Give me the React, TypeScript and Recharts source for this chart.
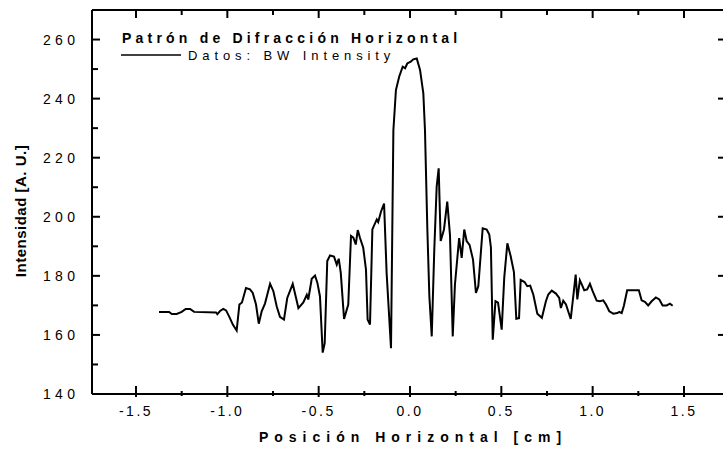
import React from 'react';
import { LineChart, Line, XAxis, YAxis, Legend, ReferenceLine } from 'recharts';

// Horizontal position (cm)
const positionsCm = [
  -1.374, -1.319, -1.304, -1.277, -1.250, -1.228, -1.204, -1.182, -1.062, -1.055,
  -1.040, -1.022, -1.007, -0.989, -0.970, -0.949, -0.934, -0.920, -0.898, -0.876,
  -0.861, -0.843, -0.828, -0.812, -0.794, -0.766, -0.748, -0.730, -0.712, -0.690,
  -0.672, -0.642, -0.628, -0.611, -0.584, -0.565, -0.557, -0.538, -0.520, -0.507,
  -0.493, -0.478, -0.467, -0.453, -0.438, -0.416, -0.401, -0.390, -0.379, -0.361,
  -0.338, -0.323, -0.310, -0.297, -0.286, -0.274, -0.256, -0.241, -0.232, -0.219,
  -0.206, -0.182, -0.174, -0.159, -0.142, -0.128, -0.104, -0.091, -0.077, -0.059,
  -0.040, -0.027, -0.015, 0.004, 0.018, 0.037, 0.055, 0.073, 0.082, 0.095,
  0.106, 0.119, 0.133, 0.146, 0.157, 0.168, 0.186, 0.204, 0.219, 0.234,
  0.246, 0.269, 0.283, 0.297, 0.310, 0.326, 0.345, 0.361, 0.374, 0.398,
  0.420, 0.434, 0.443, 0.453, 0.468, 0.482, 0.502, 0.516, 0.533, 0.551,
  0.569, 0.582, 0.597, 0.606, 0.627, 0.642, 0.658, 0.675, 0.697, 0.722,
  0.744, 0.757, 0.776, 0.799, 0.817, 0.826, 0.839, 0.854, 0.866, 0.880,
  0.894, 0.907, 0.916, 0.930, 0.941, 0.954, 0.970, 0.985, 1.000, 1.022,
  1.040, 1.058, 1.073, 1.091, 1.113, 1.135, 1.146, 1.159, 1.171, 1.189,
  1.253, 1.268, 1.286, 1.304, 1.323, 1.346, 1.365, 1.383, 1.405, 1.423,
  1.438,
];

// BW intensity (A. U.)
const intensityAU = [
  167.8, 167.8, 167.1, 167.1, 167.8, 168.8, 168.8, 167.8, 167.6, 167.0,
  168.1, 168.8, 168.3, 166.1, 163.5, 161.5, 170.3, 171.0, 175.9, 175.4,
  174.2, 170.3, 163.8, 168.0, 170.6, 177.3, 174.8, 169.7, 166.1, 165.2,
  172.5, 177.3, 173.6, 169.1, 171.0, 173.6, 172.0, 179.0, 180.1, 177.6,
  173.1, 154.0, 157.2, 185.0, 186.9, 186.5, 183.8, 185.8, 181.0, 165.4,
  170.3, 193.5, 192.9, 190.6, 195.5, 192.9, 189.5, 182.1, 165.2, 163.5,
  195.7, 199.1, 198.2, 201.7, 204.5, 181.0, 155.5, 229.3, 242.9, 247.5,
  250.8, 250.3, 251.9, 252.5, 253.3, 253.6, 249.7, 241.8, 229.3, 195.7,
  173.1, 159.5, 188.9, 210.2, 216.4, 191.8, 195.7, 205.1, 193.7, 159.5,
  177.0, 192.8, 186.1, 195.7, 191.8, 190.5, 185.5, 174.2, 176.5, 196.1,
  195.7, 194.0, 189.6, 158.4, 171.4, 170.9, 161.8, 179.4, 191.0, 186.7,
  181.3, 165.5, 165.7, 178.6, 177.9, 176.5, 176.7, 173.7, 167.2, 165.8,
  171.4, 173.7, 175.0, 174.0, 172.5, 169.1, 171.6, 170.3, 168.0, 165.4,
  173.1, 180.4, 172.0, 178.5, 177.0, 175.1, 175.4, 177.3, 174.8, 171.6,
  171.4, 171.7, 170.3, 168.0, 167.2, 167.4, 167.8, 167.4, 169.9, 175.1,
  175.1, 171.7, 171.2, 170.0, 171.4, 172.7, 172.0, 170.0, 170.0, 170.6,
  169.9,
];

const xMajorTicks = [-1.5, -1.0, -0.5, 0.0, 0.5, 1.0, 1.5];
const xMinorTicks = [-1.25, -0.75, -0.25, 0.25, 0.75, 1.25];
const yMajorTicks = [140, 160, 180, 200, 220, 240, 260];
const yMinorTicks = [150, 170, 190, 210, 230, 250, 270];

const xDomain = [-1.741, 1.741];
const yDomain = [140, 270];

const chartTitle = 'Patrón de Difracción Horizontal';
const seriesName = 'Datos: BW Intensity';
const xTitle = 'Posición Horizontal [cm]';
const yTitle = 'Intensidad [A. U.]';

const data = positionsCm.map((x, i) => ({ x, y: intensityAU[i] }));
const xTicks = [...xMajorTicks, ...xMinorTicks].sort((a, b) => a - b);
const yTicks = [...yMajorTicks, ...yMinorTicks].sort((a, b) => a - b);

// top-frame tick lengths in data units (plot is 384 px tall for 130 units)
const topMajorLen = 8 * (130 / 384);
const topMinorLen = 5 * (130 / 384);

const FONT = '"Liberation Sans", Arial, Helvetica, sans-serif';
const isIn = (arr: number[], v: number) => arr.some((t) => Math.abs(t - v) < 1e-9);

const BottomTick = (props: any) => {
  const { x, y, payload } = props;
  const v = payload.value as number;
  const major = isIn(xMajorTicks, v);
  return (
    <g>
      <line x1={x} x2={x} y1={major ? y - 8 : y - 3} y2={major ? y + 3 : y + 2} stroke="#000" strokeWidth={2} />
      {major ? (
        <text x={x} y={y + 22} textAnchor="middle" fontFamily={FONT} fontSize={14} letterSpacing={2.5} fill="#000">
          {v.toFixed(1)}
        </text>
      ) : null}
    </g>
  );
};

const LeftTick = (props: any) => {
  const { x, y, payload } = props;
  const v = payload.value as number;
  const major = isIn(yMajorTicks, v);
  return (
    <g>
      <line x1={x} x2={major ? x + 8 : x + 6} y1={y} y2={y} stroke="#000" strokeWidth={2} />
      {major ? (
        <text x={x - 49} y={y + 5} textAnchor="start" fontFamily={FONT} fontSize={14} letterSpacing={4.3} fill="#000">
          {String(v)}
        </text>
      ) : null}
    </g>
  );
};

const RightTick = (props: any) => {
  const { x, y, payload } = props;
  const major = isIn(yMajorTicks, payload.value);
  return <line x1={major ? x - 10 : x - 5} x2={x} y1={y} y2={y} stroke="#000" strokeWidth={2} />;
};

const TitleLegend = () => (
  <svg width={470} height={70} style={{ display: 'block', overflow: 'visible' }}>
    <text x={122} y={42.5} fontFamily={FONT} fontWeight="bold" fontSize={14} letterSpacing={4.2} fill="#000">
      {chartTitle}
    </text>
    <line x1={121} x2={181} y1={55} y2={55} stroke="#000" strokeWidth={1.5} />
    <text x={188} y={59.5} fontFamily={FONT} fontSize={13} letterSpacing={4.9} fill="#000">
      {seriesName}
    </text>
  </svg>
);

const XTitle = () => (
  <text x={410 + 3} y={442} textAnchor="middle" fontFamily={FONT} fontWeight="bold" fontSize={14} letterSpacing={6.0} fill="#000">
    {xTitle}
  </text>
);

const YTitle = () => (
  <text x={20} y={211} transform="rotate(-90, 20, 211)" textAnchor="middle" dominantBaseline="central"
    fontFamily={FONT} fontWeight="bold" fontSize={15} letterSpacing={0.5} fill="#000">
    {yTitle}
  </text>
);

export default function App() {
  return (
    <div style={{ position: 'absolute', left: 0, top: 0, width: 723, height: 450, overflow: 'hidden', background: '#fff' }}>
      <LineChart width={741} height={450} data={data} margin={{ top: 0, right: 0, bottom: 0, left: 0 }}>
        <XAxis dataKey="x" type="number" domain={xDomain} allowDataOverflow ticks={xTicks} interval={0} height={56}
          tickSize={0} tickMargin={0} tickLine={false} axisLine={{ stroke: '#000', strokeWidth: 2 }} tick={BottomTick} label={XTitle} />
        <XAxis xAxisId="top" dataKey="x" orientation="top" type="number" domain={xDomain} allowDataOverflow height={10}
          tickLine={false} tick={false} axisLine={{ stroke: '#000', strokeWidth: 2 }} />
        <YAxis type="number" domain={yDomain} allowDataOverflow ticks={yTicks} interval={0} width={92}
          tickSize={0} tickMargin={0} tickLine={false} axisLine={{ stroke: '#000', strokeWidth: 2 }} tick={LeftTick} label={YTitle} />
        <YAxis yAxisId="right" orientation="right" type="number" domain={yDomain} allowDataOverflow ticks={yTicks} interval={0} width={13}
          tickSize={0} tickMargin={0} tickLine={false} axisLine={{ stroke: '#000', strokeWidth: 2 }} tick={RightTick} />
        {xTicks.map((v) => (
          <ReferenceLine
            key={`top-${v}`}
            segment={[
              { x: v, y: yDomain[1] },
              { x: v, y: yDomain[1] - (isIn(xMajorTicks, v) ? topMajorLen : topMinorLen) },
            ]}
            stroke="#000"
            strokeWidth={2}
            ifOverflow="visible"
          />
        ))}
        <Legend content={<TitleLegend />} layout="vertical" align="center" verticalAlign="middle"
          wrapperStyle={{ position: 'absolute', left: 0, top: 0, width: 470, height: 70, pointerEvents: 'none' }} />
        <Line type="linear" dataKey="y" name={seriesName} stroke="#000" strokeWidth={2} dot={false} activeDot={false} isAnimationActive={false} />
      </LineChart>
    </div>
  );
}
